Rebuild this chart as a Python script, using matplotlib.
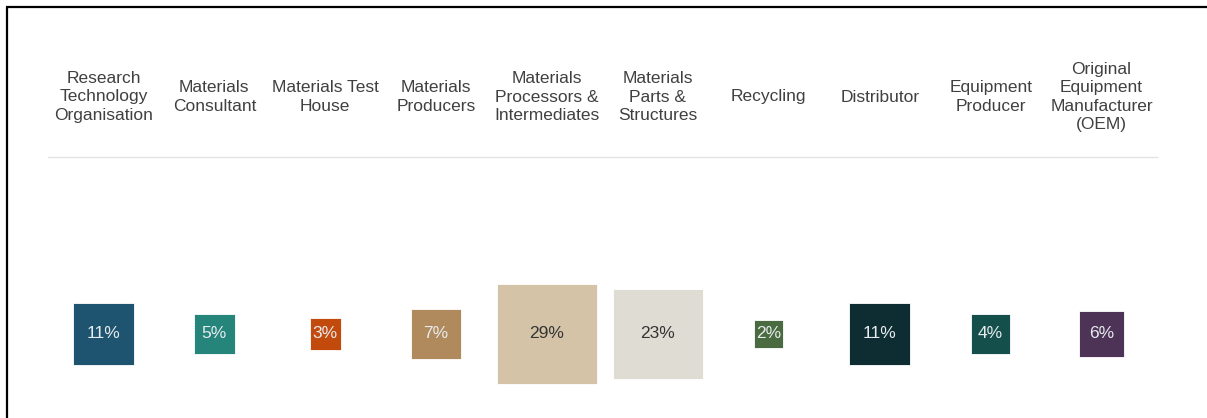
import matplotlib.pyplot as plt
from matplotlib.lines import Line2D
import numpy as np

plt.rcParams['font.family'] = ['Liberation Sans', 'DejaVu Sans']

categories = ['Research\nTechnology\nOrganisation', 'Materials\nConsultant', 'Materials Test\nHouse',
              'Materials\nProducers', 'Materials\nProcessors &\nIntermediates', 'Materials\nParts &\nStructures',
              'Recycling', 'Distributor', 'Equipment\nProducer', 'Original\nEquipment\nManufacturer\n(OEM)']
# shares estimated from square areas; labels as printed
shares = [10.8, 4.7, 2.8, 7.2, 29, 23, 2.4, 10.8, 4.4, 5.9]
share_labels = ['11%', '5%', '3%', '7%', '29%', '23%', '2%', '11%', '4%', '6%']
colors = ['#1f5470', '#25857a', '#c24a0c', '#b08a5c', '#d5c3a8',
          '#dfdcd3', '#4a6a3f', '#0e2d33', '#154f4c', '#4d3356']
text_colors = ['#e8ecef'] * 4 + ['#333333'] * 2 + ['#e8ecef'] * 4

W, H = 1207, 418
fig = plt.figure(figsize=(W / 100, H / 100), dpi=100)
ax = fig.add_axes([48 / W, 0, 1109 / W, (H - 157) / H])
ax.set_xlim(-0.5, len(shares) - 0.5)
ax.set_ylim(0, 1)
for s in ['left', 'right', 'bottom']:
    ax.spines[s].set_visible(False)
ax.spines['top'].set_color('#e3e3e3')
ax.spines['top'].set_linewidth(1)
ax.set_xticks([])
ax.set_yticks([])

x = np.arange(len(shares))
yc = (H - 334) / (H - 157)
side_px = np.sqrt(shares) * 18.6
ax.scatter(x, [yc] * len(x), s=(side_px * 0.72) ** 2, marker='s', c=colors,
           edgecolors='white', linewidths=0.6)

for i, cat in enumerate(categories):
    ax.text(i, yc, share_labels[i], ha='center', va='center', fontsize=12.5, color=text_colors[i])
    ax.text(i, (H - 97) / (H - 157), cat, ha='center', va='center', fontsize=12.5,
            color='#404040', linespacing=1.3, clip_on=False)

# frame around the chart
fig.add_artist(Line2D([6.5 / W, 6.5 / W], [0, 1 - 7 / H], color='black', lw=1.6, solid_capstyle='butt'))
fig.add_artist(Line2D([6 / W, 1], [1 - 7 / H, 1 - 7 / H], color='black', lw=1.6, solid_capstyle='butt'))

fig.savefig('out.png', dpi=100)
